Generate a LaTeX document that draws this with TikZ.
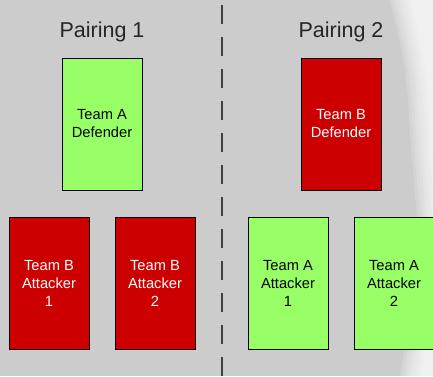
\documentclass[tikz,border=0pt]{standalone}
\usepackage{fontspec}
\setmainfont{Liberation Sans}
\begin{document}
\begin{tikzpicture}[x=1pt,y=-1pt,
  card/.style={draw=black,line width=1pt,minimum width=80pt,minimum height=132pt,
    inner sep=0pt,align=center,font=\fontsize{14.7}{18}\selectfont},
  teamA/.style={card,fill=cardgreen,text=black},
  teamB/.style={card,fill=cardred,text=white},
  heading/.style={font=\fontsize{21.5}{24}\selectfont,text=black!85,inner sep=0pt},
  divider/.style={draw=black!75,line width=1.2pt,dash pattern=on 19pt off 13pt}]
\definecolor{cardgreen}{HTML}{99FF66}
\definecolor{cardred}{HTML}{CC0000}
\definecolor{paper}{HTML}{CCCCCC}
% canvas
\fill[paper] (0,0) rectangle (433,376);
\useasboundingbox (0,0) rectangle (433,376);
% soft torn edge along the right side, built up from faint layers
\foreach \d in {-6,-3,0,3,6,9,12,15}{
  \fill[white,opacity=0.16] (396+\d,0) .. controls (402+\d,30) and (410+\d,50) .. (414+\d,100)
    .. controls (418+\d,180) and (426+\d,220) .. (424+\d,270)
    .. controls (420+\d,320) and (410+\d,345) .. (406+\d,376) -- (440,376) -- (440,0) -- cycle;
}
% divider between the two pairings
\coordinate (top) at (222,5);
\coordinate (bot) at (222,376);
\draw[divider] (top) -- (bot);
% headings
\node[heading] (h1) at (102,32) {Pairing 1};
\node[heading] (h2) at (341,32) {Pairing 2};
% pairing 1
\node[teamA] (d1) at (102,124) {Team A\\Defender};
\node[teamB] (a11) at (49,283) {Team B\\Attacker\\1};
\node[teamB] (a12) at (155,283) {Team B\\Attacker\\2};
% pairing 2
\node[teamB] (d2) at (341,124) {Team B\\Defender};
\node[teamA] (a21) at (288,283) {Team A\\Attacker\\1};
\node[teamA] (a22) at (394,283) {Team A\\Attacker\\2};
\end{tikzpicture}
\end{document}
